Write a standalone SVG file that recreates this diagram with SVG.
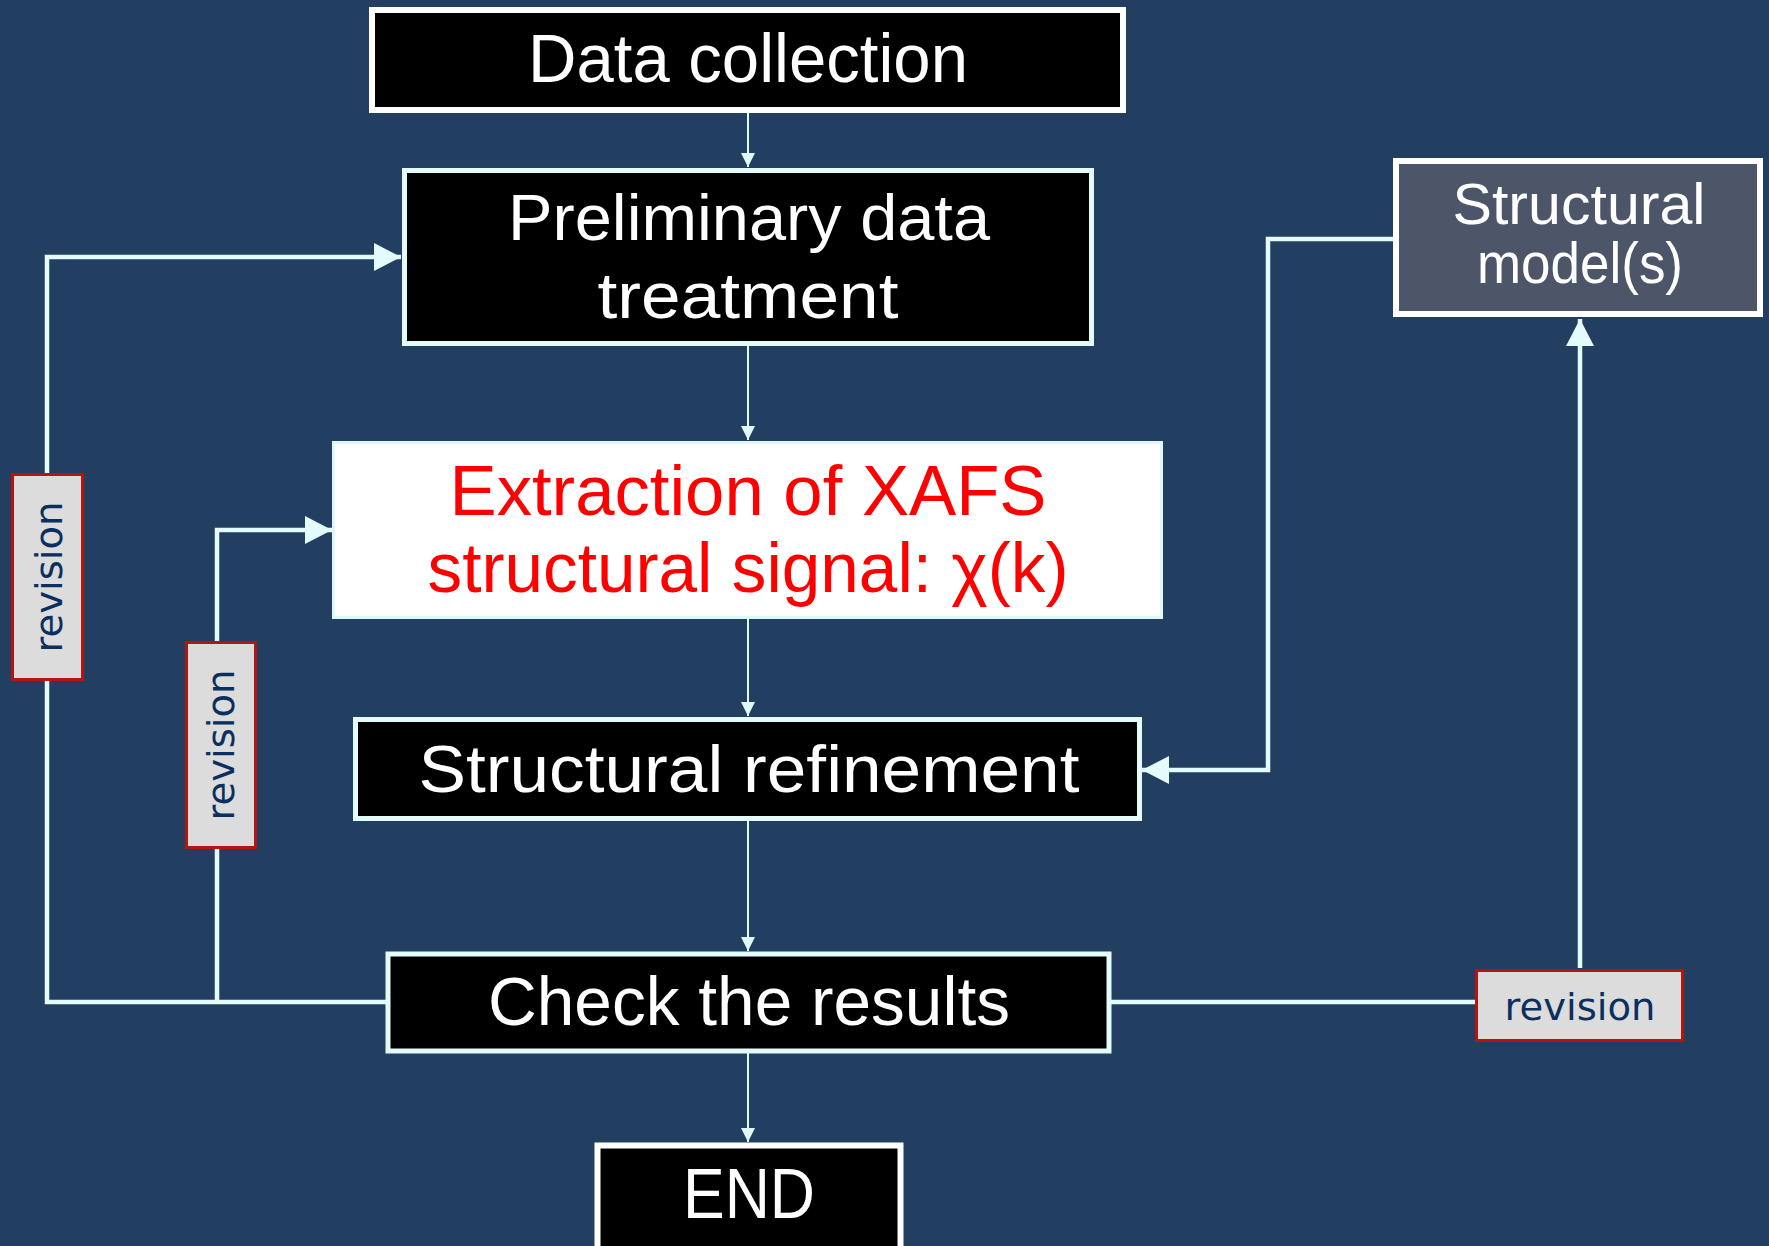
<svg xmlns="http://www.w3.org/2000/svg" width="1769" height="1246" viewBox="0 0 1769 1246">
<style>
.bg{fill:#223f61}
.box{fill:#000;stroke:#e4fbfb;stroke-width:5}
.wbox{fill:#000;stroke:#fff;stroke-width:6}
.t{font-family:"Liberation Sans",Arial,sans-serif;fill:#fff;text-anchor:middle}
.rt{font-family:"Liberation Sans",Arial,sans-serif;fill:#ff0000;text-anchor:middle}
.rev{fill:#dcdcdc;stroke:#b3150f;stroke-width:3}
.revt{font-family:"DejaVu Sans","Liberation Sans",sans-serif;fill:#0b2f5e;text-anchor:middle;font-size:38px}
.thin{fill:none;stroke:#dff8f8;stroke-width:2}
.thick{fill:none;stroke:#e4fbfb;stroke-width:4.5}
</style>
<defs>
<marker id="sm" markerUnits="userSpaceOnUse" markerWidth="16" markerHeight="16" refX="14" refY="7" orient="auto">
<path d="M0,0 L14,7 L0,14 Z" fill="#dff8f8"/>
</marker>
<marker id="lg" markerUnits="userSpaceOnUse" markerWidth="32" markerHeight="32" refX="27" refY="14" orient="auto">
<path d="M0,0 L27,14 L0,28 Z" fill="#e4fbfb"/>
</marker>
</defs>
<rect class="bg" x="0" y="0" width="1769" height="1246"/>

<g id="connectors">
<path class="thin" d="M748,113 V167" marker-end="url(#sm)"/>
<path class="thin" d="M748,346 V440" marker-end="url(#sm)"/>
<path class="thin" d="M748,619 V716" marker-end="url(#sm)"/>
<path class="thin" d="M748,821 V951" marker-end="url(#sm)"/>
<path class="thin" d="M748,1053 V1142" marker-end="url(#sm)"/>
<path class="thick" d="M386,1002 H47 V257 H401" marker-end="url(#lg)"/>
<path class="thick" d="M217,1002 V530 H332" marker-end="url(#lg)"/>
<path class="thick" d="M1111,1002 H1476"/>
<path class="thick" d="M1580,968 V319" marker-end="url(#lg)"/>
<path class="thick" d="M1393,239 H1268 V770 H1142" marker-end="url(#lg)"/>
</g>

<g id="data-collection">
<rect class="wbox" x="372" y="10" width="751" height="100"/>
<text class="t" x="748" y="82" font-size="68" textLength="440" lengthAdjust="spacingAndGlyphs">Data collection</text>
</g>

<g id="preliminary">
<rect class="box" x="404.5" y="170.5" width="687" height="173"/>
<text class="t" x="749" y="240" font-size="64" textLength="482" lengthAdjust="spacingAndGlyphs">Preliminary data</text>
<text class="t" x="748" y="318" font-size="64" textLength="301" lengthAdjust="spacingAndGlyphs">treatment</text>
</g>

<g id="extraction">
<rect x="333.5" y="442.5" width="828" height="175" fill="#fff" stroke="#dff8f8" stroke-width="3"/>
<text class="rt" x="748" y="515" font-size="70" textLength="597" lengthAdjust="spacingAndGlyphs">Extraction of XAFS</text>
<text class="rt" x="748" y="592" font-size="70" textLength="641" lengthAdjust="spacingAndGlyphs">structural signal: χ(k)</text>
</g>

<g id="refinement">
<rect class="box" x="355.5" y="719.5" width="784" height="99"/>
<text class="t" x="749" y="792" font-size="67" textLength="661" lengthAdjust="spacingAndGlyphs">Structural refinement</text>
</g>

<g id="check">
<rect class="box" x="388" y="954" width="721" height="97" stroke-width="4"/>
<text class="t" x="749" y="1025" font-size="68" textLength="522" lengthAdjust="spacingAndGlyphs">Check the results</text>
</g>

<g id="end">
<rect class="wbox" x="597.5" y="1145.5" width="303" height="120" stroke-width="5"/>
<text class="t" x="749" y="1218" font-size="70" textLength="132" lengthAdjust="spacingAndGlyphs">END</text>
</g>

<g id="structural-models">
<rect x="1396" y="161" width="364" height="153" fill="#4d5668" stroke="#fff" stroke-width="6"/>
<text class="t" x="1579" y="224" font-size="58" textLength="253" lengthAdjust="spacingAndGlyphs">Structural</text>
<text class="t" x="1580" y="283" font-size="58" textLength="206" lengthAdjust="spacingAndGlyphs">model(s)</text>
</g>

<g id="revision-left">
<rect class="rev" x="12.5" y="474.5" width="70" height="205"/>
<text class="revt" transform="translate(62,577) rotate(-90)" textLength="151" lengthAdjust="spacingAndGlyphs">revision</text>
</g>

<g id="revision-mid">
<rect class="rev" x="186.5" y="642.5" width="69" height="205"/>
<text class="revt" transform="translate(234,745) rotate(-90)" textLength="151" lengthAdjust="spacingAndGlyphs">revision</text>
</g>

<g id="revision-right">
<rect class="rev" x="1476.5" y="970.5" width="206" height="70"/>
<text class="revt" x="1580" y="1020" textLength="151" lengthAdjust="spacingAndGlyphs">revision</text>
</g>
</svg>
